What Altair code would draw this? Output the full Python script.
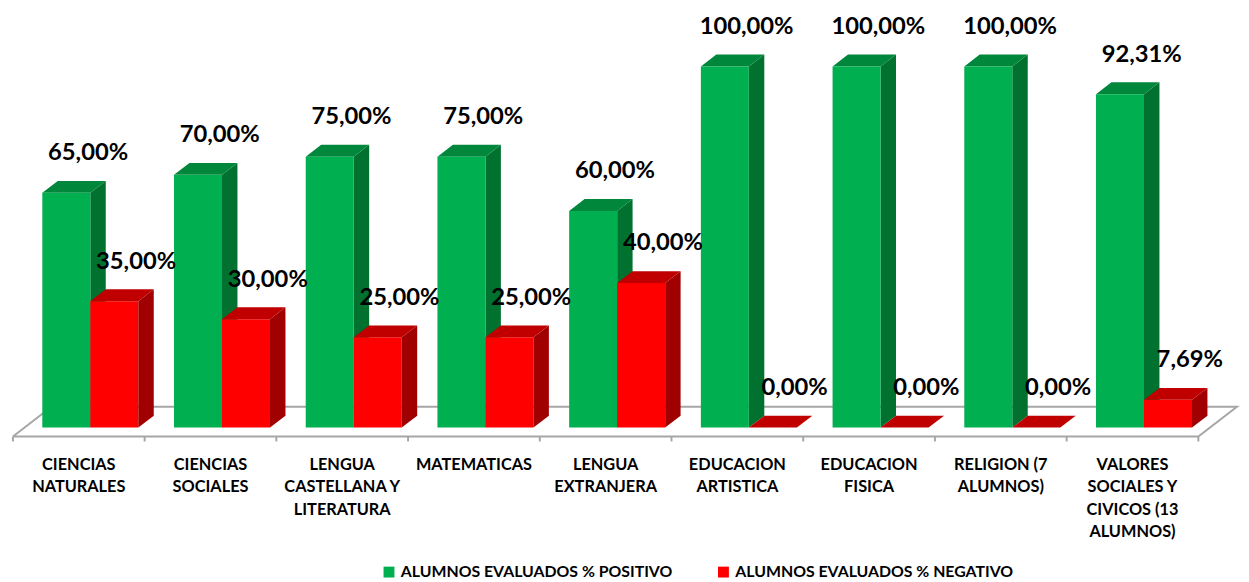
import altair as alt
import pandas as pd

# ---------------- data ----------------
categories = [
    "CIENCIAS\nNATURALES",
    "CIENCIAS\nSOCIALES",
    "LENGUA\nCASTELLANA Y\nLITERATURA",
    "MATEMATICAS",
    "LENGUA\nEXTRANJERA",
    "EDUCACION\nARTISTICA",
    "EDUCACION\nFISICA",
    "RELIGION (7\nALUMNOS)",
    "VALORES\nSOCIALES Y\nCIVICOS (13\nALUMNOS)",
]
positivo = [65.00, 70.00, 75.00, 75.00, 60.00, 100.00, 100.00, 100.00, 92.31]
negativo = [35.00, 30.00, 25.00, 25.00, 40.00, 0.00, 0.00, 0.00, 7.69]
series_names = ["ALUMNOS EVALUADOS % POSITIVO", "ALUMNOS EVALUADOS % NEGATIVO"]

# ---------------- style ----------------
front_colors = ["#00B050", "#FF0000"]
top_colors = ["#00873C", "#C00000"]
side_colors = ["#00712F", "#A00000"]
floor_color = "#A6A6A6"
FONT = "Lato"

# 3D layout in data units (x: category slots, y: percent)
GAP = 0.135
BAR_W = 0.3645
D_FRONT, D_BACK = 0.3, 0.7
DU, DV = 0.293, 8.22  # full floor depth projected on x (slots) and y (percent)
TICK_LEN = 1.37       # tick length below the floor front edge (percent units)
CAT_LABEL_V = -5.6    # category labels sit below the floor (percent units)

XMIN, XMAX = -0.0225, 9.2412
YMIN, YMAX = -1.37, 117.8


def U(u, d):
    return u + DU * d


def V(v, d):
    return v + DV * d


fronts, labels = [], []
tops = {0: [], 1: []}
sides = {0: [], 1: []}
for s, vals in enumerate([positivo, negativo]):
    for i, v in enumerate(vals):
        a = i + GAP + s * BAR_W
        b = a + BAR_W
        fid = f"{s}-{i}"
        fronts.append(dict(series=series_names[s], x=U(a, D_FRONT), x2=U(b, D_FRONT),
                           y=V(0, D_FRONT), y2=V(v, D_FRONT)))
        for d in (D_FRONT, D_BACK):
            tops[s].append(dict(id=fid, y=V(v, d), x=U(a, d), x2=U(b, d)))
            sides[s].append(dict(id=fid, x=U(b, d), y=V(v, d), y2=V(0, d)))
        labels.append(dict(x=U((a + b) / 2, D_FRONT), y=V(v, D_FRONT),
                           text=f"{v:.2f}".replace(".", ",") + "%"))

n = len(categories)
floor = pd.DataFrame([
    dict(o=0, x=U(0, 0), y=V(0, 0)),
    dict(o=1, x=U(n, 0), y=V(0, 0)),
    dict(o=2, x=U(n, 1), y=V(0, 1)),
    dict(o=3, x=U(0, 1), y=V(0, 1)),
    dict(o=4, x=U(0, 0), y=V(0, 0)),
])
ticks = pd.DataFrame([dict(x=U(i, 0), y=0.0, y2=-TICK_LEN) for i in range(n + 1)])
cat_df = pd.DataFrame([dict(x=i + 0.5, y=CAT_LABEL_V, name=c) for i, c in enumerate(categories)])

xscale = alt.Scale(domain=[XMIN, XMAX], nice=False, zero=False)
yscale = alt.Scale(domain=[YMIN, YMAX], nice=False, zero=False)


def X(field="x"):
    return alt.X(f"{field}:Q", scale=xscale, axis=None, stack=None)


def Y(field="y"):
    return alt.Y(f"{field}:Q", scale=yscale, axis=None, stack=None)


floor_layer = alt.Chart(floor).mark_line(color=floor_color, strokeWidth=2).encode(
    x=X(), y=Y(), order="o:Q"
)
tick_layer = alt.Chart(ticks).mark_rule(color=floor_color, strokeWidth=2).encode(
    x=X(), y=Y(), y2="y2:Q"
)
cat_layer = alt.Chart(cat_df).mark_text(
    font=FONT, fontWeight="bold", fontSize=16.5, color="black", align="center",
    baseline="top", lineBreak="\n", lineHeight=22.7,
).encode(x=X(), y=Y(), text="name:N")


def side_layer(s):
    return alt.Chart(pd.DataFrame(sides[s])).mark_area(
        color=side_colors[s], orient="vertical", opacity=1
    ).encode(x=X(), y=Y(), y2="y2:Q", detail="id:N")


def top_layer(s):
    return alt.Chart(pd.DataFrame(tops[s])).mark_area(
        color=top_colors[s], orient="horizontal", opacity=1
    ).encode(y=Y(), x=X(), x2="x2:Q", detail="id:N")


front_layer = alt.Chart(pd.DataFrame(fronts)).mark_rect().encode(
    x=X(), x2="x2:Q", y=Y(), y2="y2:Q",
    color=alt.Color(
        "series:N",
        scale=alt.Scale(domain=series_names, range=front_colors),
        sort=series_names,
        legend=alt.Legend(
            orient="none", legendX=375, legendY=559, direction="horizontal",
            title=None, symbolType="square", symbolSize=121, symbolStrokeWidth=0,
            symbolOpacity=1, labelFont=FONT, labelFontWeight="bold", labelFontSize=16,
            labelColor="black", labelLimit=400, columnPadding=43, padding=0, labelOffset=4,
        ),
    ),
)

text_layer = alt.Chart(pd.DataFrame(labels)).mark_text(
    font=FONT, fontWeight="bold", fontSize=24, color="black",
    align="center", baseline="middle", dx=22, dy=-40,
).encode(x=X(), y=Y(), text="text:N")

chart = alt.layer(
    floor_layer, tick_layer, cat_layer,
    side_layer(0), top_layer(0),
    front_layer,
    side_layer(1), top_layer(1),
    text_layer,
).properties(width=1233, height=435, padding=0, background="white").configure_view(stroke=None)

chart.save("out.html", embed_options={"renderer": "svg", "actions": False})
